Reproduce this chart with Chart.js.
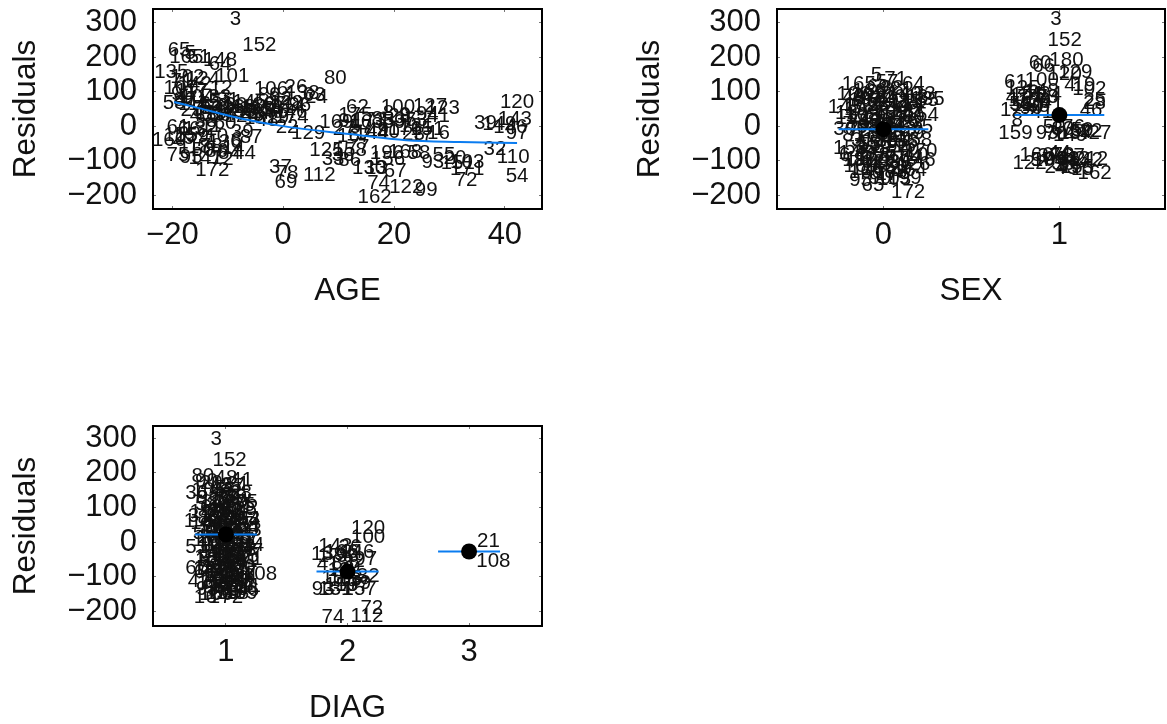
<!DOCTYPE html>
<html>
<head>
<meta charset="utf-8">
<script src="https://cdn.jsdelivr.net/npm/chart.js@4/dist/chart.umd.js"></script>
<style>
  html, body { margin: 0; background: #fff; }
  canvas { position: absolute; }
</style>
</head>
<body>
<canvas id="agePanel" width="545" height="310" style="left:0;top:0"></canvas>
<canvas id="sexPanel" width="543" height="310" style="left:624px;top:0"></canvas>
<canvas id="diagPanel" width="545" height="310" style="left:0;top:417px"></canvas>
<script>
const ageRows = [
  [3,-8.6,308],[152,-4.3,235],[65,-18.8,218],[5,-16.8,212],[165,-17.5,198],[51,-15.2,200],[148,-11.4,190],[64,-11.4,178],
  [135,-20.2,157],[102,-17.3,140],[71,-18.3,130],[124,-14.5,134],[101,-9.2,143],[142,-16,120],[12,-11.2,108],[90,-18.2,92],
  [117,-16.5,100],[53,-19.7,66],[47,-17.5,78],[104,-15.5,82],[15,-13.5,70],[121,-12,62],[31,-10,74],[76,-14.5,50],
  [145,-6.1,70],[168,-8,55],[42,-10.5,45],[119,-13,36],[56,-11.5,30],[105,-5,48],[88,-3.5,60],[18,-2,50],
  [34,-4.5,38],[126,-7.5,28],[70,-1,42],[106,-2.2,105],[89,-2.5,90],[92,-.5,78],[128,.5,65],[26,2.3,113],
  [63,5.6,90],[24,6,84],[46,2.3,41],[114,1,55],[48,-2.9,17],[22,.7,-3],[129,4.5,-20],[80,9.4,137],
  [61,-19,-5],[66,-17,-10],[132,-15,-8],[11,-13,-2],[159,-16.5,-30],[160,-20.6,-41],[29,-18,-35],[7,-15,-42],
  [75,-19,-85],[95,-16.6,-90],[141,-14,-92],[78,-13,-60],[136,-10.6,-46],[86,-12,-72],[84,-9.7,-78],[44,-7,-78],
  [39,-7.4,-17],[87,-5.8,-32],[6,-8.5,-40],[172,-12.8,-128],[60,-10.5,8],[38,-14,15],[37,-.5,-119],[78,.7,-137],
  [69,.5,-163],[112,6.5,-142],[125,7.8,-70],[33,9,-95],[36,10.8,-85],[158,12,-70],[77,13.5,-62],[86,12,-100],
  [169,9.6,12],[62,13.4,55],[91,12,14],[173,15.5,18],[83,18,20],[59,20,10],[35,22,18],[57,14,-5],
  [167,12.8,-30],[144,16,-22],[40,19,-18],[176,22,-10],[23,23.5,-24],[17,25,-28],[100,20.7,55],[127,26.5,58],
  [123,28.8,52],[94,26,35],[41,28,28],[9,22,30],[73,24,18],[28,21,28],[16,28,-22],[151,26,-8],
  [196,18.7,-80],[156,18.9,-95],[168,22,-75],[58,24.5,-78],[93,27,-105],[55,29,-85],[20,31,-92],[151,31.5,-108],
  [103,33.2,-105],[171,33.2,-125],[72,33,-157],[130,15.5,-122],[13,16.8,-122],[67,20.2,-130],[74,17.2,-165],[162,16.5,-205],
  [122,22.2,-178],[99,25.8,-187],[120,42.2,68],[143,41.8,20],[39,36.5,8],[149,39,4],[146,41,-4],[97,42.2,-20],
  [32,38.2,-68],[110,41.5,-90],[54,42.2,-145],
  [107,-18.5,110],[82,-17.8,75],[116,-16,62],[25,-16.5,45],[45,-14.8,30],[52,-13,52],[133,-12.5,82],[68,-11,50],
  [147,-9.5,35],[30,-8.5,60],[85,-7,42],[111,-6.5,55],[43,-5.5,30],[137,-4,22],[170,-3,40],[19,-1,25],
  [67,-1.5,62],[174,1.5,25],[96,3,60],[138,3.5,95],[155,-18.5,-28],[118,-16,-62],[50,-14.5,-70],[10,-12,-30],
  [72,-11,-95],[14,-9,-65],[163,15,10],[49,17,-12],[175,13,30],[8,19,38],[27,11,-8],[131,24,-2]
];
const sexRows = [
  [5,-.04,148],[165,-.14,122],[57,.02,128],[71,.07,134],[64,.17,122],[21,.1,105],[133,.2,92],[135,.25,78],[48,-.17,82],[166,-.08,100],
  [106,-.17,92],[140,.12,92],[69,-.03,112],[12,-.21,38],[145,-.22,54],[54,.25,32],[35,.25,76],[13,.19,84],[5,.25,-3],[14,.17,62],
  [172,-.13,60],[104,-.1,75],[19,-.16,48],[42,-.05,85],[58,-.03,60],[91,.02,95],[118,.06,72],[44,.08,52],[131,.14,44],[60,.17,25],
  [26,.11,36],[112,-.18,22],[7,-.2,5],[113,-.1,28],[85,-.05,38],[40,.01,40],[137,.04,20],[75,-.14,10],[149,.1,4],[23,.16,8],
  [30,-.22,-10],[81,-.17,-28],[68,-.09,-5],[144,-.03,8],[52,.03,-16],[11,.07,-30],[147,.13,-20],[9,.2,-22],[158,.18,-42],[31,-.12,-42],
  [153,-.19,-65],[6,-.22,-84],[145,-.16,-78],[33,-.1,-65],[155,-.05,-50],[88,.02,-45],[92,.08,-60],[70,.14,-68],[170,.21,-72],[10,.19,-85],
  [111,-.13,-95],[18,-.17,-100],[138,-.06,-85],[96,.01,-75],[77,.06,-95],[174,.12,-90],[146,.2,-100],[126,.17,-112],[168,-.13,-116],[116,-.09,-124],
  [43,-.02,-112],[150,.04,-118],[29,.1,-122],[164,.15,-128],[95,-.13,-157],[65,-.06,-172],[199,.12,-151],[172,.14,-192],[160,-.1,-134],[17,.02,-140],
  [20,-.12,90],[74,-.01,78],[38,.05,110],[115,.13,70],[101,.08,32],[2,-.07,50],[36,-.01,18],[84,.03,62],[128,.11,15],[49,-.08,12],
  [87,-.02,-2],[56,.01,-8],[94,.05,2],[72,-.14,-12],[143,.09,-10],[167,-.06,-28],[86,-.01,-32],[37,.03,-25],[55,-.08,-55],[79,-.02,-65],
  [107,.05,-42],[136,.1,-48],[16,.12,-58],[73,-.11,-80],[125,-.03,-95],[98,.03,-105],[39,.09,-105],[62,-.06,-105],[47,-.05,-135],[83,.07,-135],
  [90,-.02,-150],[103,.06,-155],[45,-.09,72],[120,.03,82],[89,.14,52],[108,-.12,32]
];
const sexOneRows = [
  [3,.98,308],[152,1.03,247],[60,.89,183],[66,.91,172],[180,1.04,190],[100,.9,132],[129,1.09,155],[120,1.03,150],[102,1.17,105],[4,1.06,118],
  [61,.75,128],[125,.79,108],[25,1.2,76],[28,1.2,66],[46,1.18,46],[1,.99,60],[47,.76,82],[145,.82,90],[53,.78,64],[134,.86,70],
  [148,.9,100],[63,.93,82],[90,.84,50],[123,.76,46],[41,.9,40],[27,1.23,-20],[159,.75,-20],[93,.93,-20],[137,1.09,-22],[8,.76,17],
  [50,.97,-5],[83,1.02,-10],[76,1.08,-5],[59,1.13,-12],[22,1.18,-14],[122,.83,-107],[160,.87,-84],[44,1.0,-78],[142,1.15,-100],[212,1.18,-95],
  [162,1.2,-137],[104,.94,-100],[24,.98,-120],[83,1.05,-95],[155,1.1,-118],[67,1.08,-88],[33,1.02,-112],[15,1.13,-125],
  [117,.8,75],[51,.85,92],[68,.88,58],[9,.92,68],[110,.82,60],[77,.87,82],[34,.95,92],[19,1.14,118],[54,1.12,-18],[149,1.06,-28],
  [70,.98,-25],[37,.94,-88],[99,.98,-95],[78,1.02,-85],[96,1.06,-110],[13,1.11,-95],[43,1.04,-122],[57,.9,-100]
];
const diagRows = [
  [3,.92,297],[152,1.03,237],[80,.81,190],[90,.84,175],[48,1,185],[20,.88,170],[41,1.13,178],[21,1.1,168],[36,.76,140],[8,.8,125],
  [45,.98,150],[72,1,130],[75,1.17,115],[25,1.16,95],[130,1.04,115],[1,.7,60],[54,1.19,66],[34,1.18,45],[51,.76,-15],[7,1.26,-27],
  [71,1.21,-50],[108,1.28,-94],[172,1,-158],[16,.83,-158],[61,.83,-88],[47,.78,-112],[9,.8,-135],[62,.86,-70],[95,.9,-130],[111,1.16,-128],
  [69,.88,100],[147,.84,85],[119,.92,115],[86,.95,135],[31,.78,75],[14,.8,55],[64,.9,60],[101,1,95],[29,1.06,75],[135,1.1,105],
  [11,.86,35],[50,.94,40],[68,1.02,50],[127,1.09,50],[133,1.14,65],[23,1.2,35],[55,.82,25],[103,.9,15],[78,.98,20],[82,1.05,25],
  [43,1.12,20],[17,1.18,12],[107,.92,-10],[66,1,-20],[118,1.06,-8],[84,1.14,-15],[44,1.22,-10],[30,.88,-30],[77,.97,-40],[19,1.04,-45],
  [137,1.1,-35],[15,1.18,-40],[10,.84,-52],[56,.92,-65],[12,1,-60],[94,1.08,-62],[60,1.15,-72],[37,.96,-85],[79,1.02,-90],[136,1.1,-98],
  [24,1.16,-100],[13,.9,-100],[58,.98,-110],[27,1.05,-120],[98,1.12,-112],[39,.94,-135],[73,1.02,-138],[18,1.09,-135],[46,1.18,-140],[6,.87,-115],
  [67,.76,-75],[85,.95,90],[92,1.04,145],[105,.86,150],[38,1.12,140],[42,.96,165],[57,1.06,160],[28,.93,75],[63,1.01,70],[99,.97,-75],
  [2,.9,125],[4,.96,110],[33,1.02,125],[49,1.08,130],[52,.84,110],[59,.91,85],[65,.98,80],[76,1.04,90],[81,1.1,85],[83,.86,70],
  [87,.95,60],[89,1.03,60],[91,1.09,65],[96,.88,48],[104,.97,45],[106,1.05,38],[109,1.13,35],[113,.93,28],[114,1,30],[115,1.07,10],
  [116,.86,5],[117,.95,5],[121,1.03,0],[123,1.1,5],[124,.9,-15],[125,.97,-10],[126,1.04,-20],[128,1.11,-25],[129,.93,-30],[131,1.01,-35],
  [132,1.07,-45],[134,.88,-45],[138,.95,-55],[140,1.03,-50],[141,1.12,-55],[142,.87,-78],[144,.94,-72],[145,1.05,-78],[147,1.12,-85],[148,.98,-95],
  [149,1.05,-105],[150,.93,-115],[153,1.01,-125],[154,1.1,-122],[155,.9,-120],[156,.97,-148],[158,1.05,-148],[159,1.12,-148],[160,.92,-152],[161,1.08,100]
];
const diagTwoRows = [
  [120,2.17,40],[100,2.17,13],[143,1.9,-13],[139,1.84,-36],[146,2.08,-30],[97,2.15,-50],[41,1.84,-65],[12,1.93,-82],[9,2.06,-72],[32,2.17,-100],
  [15,1.88,-105],[93,1.8,-137],[131,1.9,-137],[157,2.1,-137],[197,2.04,-125],[74,1.88,-218],[112,2.16,-215],[72,2.2,-190],[36,2,-40],[88,1.96,-60],
  [26,2.02,-15],[166,1.95,-30],[22,2.05,-55],[113,1.98,-110],[58,2.03,-105],[79,2.1,-118],[155,1.95,-125],[17,1.85,-40]
];
const diagThreeRows = [[21,3.16,2],[108,3.2,-56]];

const yTicks = [-200, -100, 0, 100, 200, 300];
const ageTicks = [-20, 0, 20, 40];
const sexTicks = [0, 1];
const diagTicks = [1, 2, 3];

// fitted curve in the AGE panel and group means in the other two
const ageCurveX = [-19.7, -15.2, -7.9, 1.1, 11.9, 22.2, 31.8, 42.2];
const ageCurveY = [70, 52, 23, -3, -23, -41, -46, -49];
const sexMeanX = [0, 1];
const sexMeanY = [-9, 32];
const diagMeanX = [1, 2, 3];
const diagMeanY = [22, -85, -27];
const meanHalfWidth = 0.255;

const blue = "#0a7cf0";
const fontName = "'Liberation Sans', Arial, sans-serif";

const labelPlugin = {
    id: "obsLabels",
    beforeDatasetsDraw(chart) {
        const ctx = chart.ctx;
        ctx.save();
        ctx.font = "20.5px " + fontName;
        ctx.fillStyle = "#111";
        ctx.textAlign = "center";
        ctx.textBaseline = "middle";
        chart.data.datasets.forEach((ds, i) => {
            if (!ds.ids) return;
            chart.getDatasetMeta(i).data.forEach((pt, j) => {
                ctx.fillText(ds.ids[j], pt.x, pt.y);
            });
        });
        ctx.restore();
    },
};

let axis = (cfg) => ({
    type: "linear",
    position: cfg.position,
    min: cfg.min,
    max: cfg.max,
    border: { color: "#000", width: 2 },
    grid: { drawOnChartArea: false, color: "#777", tickLength: -3, tickWidth: 1 },
    afterBuildTicks: (scale) => {
        scale.ticks = cfg.ticks.map((v) => ({ value: v }));
    },
    afterFit: (scale) => {
        if (cfg.width !== undefined) scale.width = cfg.width;
        if (cfg.height !== undefined) scale.height = cfg.height;
        scale.paddingTop = 0;
        scale.paddingBottom = 0;
        scale.paddingLeft = 0;
        scale.paddingRight = 0;
    },
    ticks: {
        display: cfg.labels,
        autoSkip: false,
        maxRotation: 0,
        padding: cfg.padding,
        color: "#111",
        font: { family: fontName, size: 31 },
        callback: (v) => String(v).replace("-", "\u2212"),
    },
    title: {
        display: !!cfg.title,
        text: cfg.title,
        color: "#111",
        font: { family: fontName, size: 31.5 },
        padding: cfg.titlePadding,
    },
});

let labelSet = (rows) => ({
    ids: rows.map((r) => r[0]),
    data: rows.map((r) => ({ x: r[1], y: r[2] })),
    pointRadius: 0,
    showLine: false,
});

let meanSets = (xs, ys) => {
    const sets = [];
    xs.forEach((x, i) => {
        sets.push({
            data: [{ x: x - meanHalfWidth, y: ys[i] }, { x: x + meanHalfWidth, y: ys[i] }],
            showLine: true,
            borderColor: blue,
            borderWidth: 2,
            pointRadius: 0,
            order: 1,
        });
    });
    sets.push({
        data: xs.map((x, i) => ({ x: x, y: ys[i] })),
        showLine: false,
        pointRadius: 8,
        pointBackgroundColor: "#000",
        pointBorderWidth: 0,
        order: 0,
    });
    return sets;
};

let drawPanel = (id, cfg) => {
    new Chart(document.getElementById(id), {
        type: "scatter",
        data: { datasets: cfg.datasets },
        plugins: [labelPlugin],
        options: {
            responsive: false,
            animation: false,
            layout: { autoPadding: false, padding: { top: 9, right: cfg.right, left: 0, bottom: 0 } },
            plugins: { legend: { display: false }, tooltip: { enabled: false } },
            scales: {
                x: axis({ position: "bottom", min: cfg.xMin, max: cfg.xMax, ticks: cfg.xTicks, labels: true,
                    padding: 11, height: 101, title: cfg.xTitle, titlePadding: { top: 0, bottom: 0 } }),
                y: axis({ position: "left", min: cfg.yMin, max: cfg.yMax, ticks: yTicks, labels: true,
                    padding: 19, width: 153, title: "Residuals", titlePadding: { top: 7, bottom: 0 } }),
                x2: axis({ position: "top", min: cfg.xMin, max: cfg.xMax, ticks: cfg.xTicks, labels: false, height: 0 }),
                y2: axis({ position: "right", min: cfg.yMin, max: cfg.yMax, ticks: yTicks, labels: false, width: 0 }),
            },
        },
    });
};

drawPanel("agePanel", {
    right: 3, xMin: -23.5, xMax: 46.7, yMin: -240, yMax: 339, xTicks: ageTicks, xTitle: "AGE",
    datasets: [
        labelSet(ageRows),
        {
            data: ageCurveX.map((x, i) => ({ x: x, y: ageCurveY[i] })),
            showLine: true,
            borderColor: blue,
            borderWidth: 2,
            pointRadius: 0,
            cubicInterpolationMode: "monotone",
        },
    ],
});

drawPanel("sexPanel", {
    right: 2, xMin: -0.605, xMax: 1.6, yMin: -240, yMax: 339, xTicks: sexTicks, xTitle: "SEX",
    datasets: [labelSet(sexRows), labelSet(sexOneRows)].concat(meanSets(sexMeanX, sexMeanY)),
});

drawPanel("diagPanel", {
    right: 3, xMin: 0.4, xMax: 3.6, yMin: -242, yMax: 335, xTicks: diagTicks, xTitle: "DIAG",
    datasets: [labelSet(diagRows), labelSet(diagTwoRows), labelSet(diagThreeRows)].concat(meanSets(diagMeanX, diagMeanY)),
});
</script>
</body>
</html>
